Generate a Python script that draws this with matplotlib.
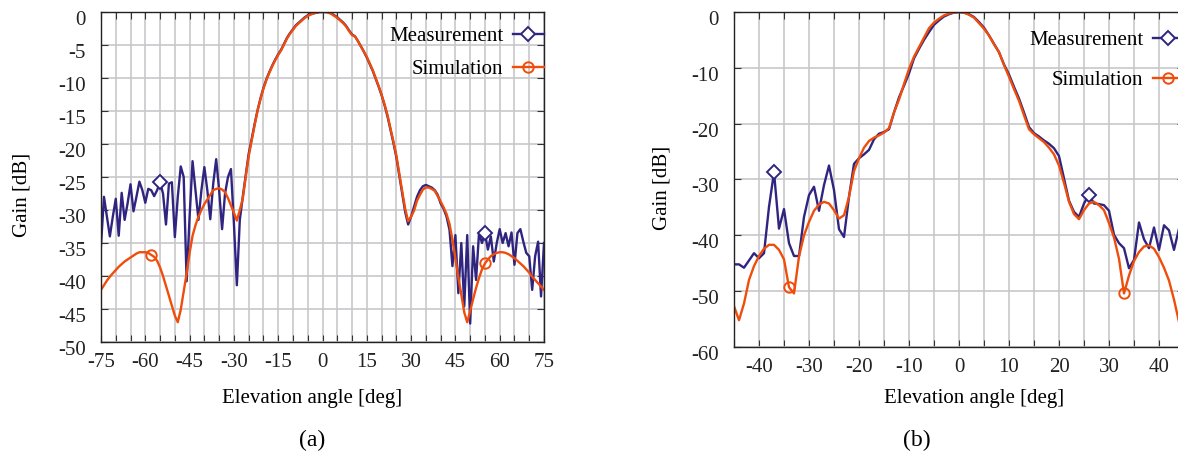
import numpy as np
import matplotlib
matplotlib.use("Agg")
import matplotlib.pyplot as plt
from matplotlib.ticker import MultipleLocator
from matplotlib.transforms import ScaledTranslation

plt.rcParams['font.family'] = ['Liberation Serif', 'DejaVu Serif']
plt.rcParams['font.size'] = 15
plt.rcParams['axes.unicode_minus'] = False

# ---- panel (a): -75..75 deg, 1 deg step ----
angle_a = np.arange(-75, 76)
meas_a = [-35.4, -28.0, -31.0, -34.0, -31.0, -28.3, -33.9, -27.4, -31.5, -29.0,
          -26.1, -30.2, -28.0, -25.7, -27.0, -28.9, -26.8, -27.0, -27.9, -27.0,
          -25.8, -27.5, -32.2, -26.0, -25.8, -34.1, -28.0, -23.4, -25.0, -40.8,
          -31.0, -22.6, -27.0, -31.5, -27.0, -23.5, -27.0, -31.4, -26.0, -22.3,
          -27.0, -32.9, -27.5, -25.0, -23.8, -32.0, -41.4, -31.5, -28.0, -24.8,
          -21.5, -19.3, -17.0, -14.9, -13.1, -11.5, -10.2, -9.1, -8.1, -7.2,
          -6.4, -5.7, -4.8, -3.9, -3.2, -2.6, -2.0, -1.6, -1.2, -0.8,
          -0.5, -0.3, -0.2, -0.1, 0.0, 0.0, 0.0, 0.0, -0.2, -0.5,
          -0.8, -1.2, -1.6, -2.1, -2.8, -3.4, -3.7, -4.4, -5.2, -6.0,
          -6.9, -7.9, -8.9, -10.1, -11.3, -12.6, -14.1, -15.8, -17.8, -19.8,
          -22.0, -24.8, -27.6, -30.3, -32.2, -31.0, -29.5, -28.0, -27.0, -26.4,
          -26.2, -26.4, -26.6, -27.0, -27.7, -29.0, -29.8, -31.0, -33.0, -38.5,
          -33.8, -42.6, -35.0, -44.6, -33.8, -47.2, -35.5, -40.6, -33.5, -35.0,
          -33.5, -36.0, -34.0, -37.8, -35.0, -32.9, -35.0, -33.5, -35.5, -33.4,
          -38.3, -33.5, -32.9, -34.8, -36.5, -37.0, -42.1, -37.0, -34.8, -43.1,
          -35.0]
sim_a = [-42.1, -41.4, -40.7, -40.1, -39.6, -39.1, -38.6, -38.2, -37.8, -37.5,
         -37.2, -36.9, -36.6, -36.4, -36.4, -36.4, -36.5, -36.8, -37.1, -37.7,
         -38.7, -40.0, -41.5, -43.0, -44.5, -46.0, -47.0, -45.1, -42.3, -39.6,
         -36.5, -33.9, -32.3, -31.0, -30.0, -29.1, -28.4, -27.7, -27.0, -26.8,
         -26.7, -26.9, -27.3, -28.2, -29.3, -30.4, -31.6, -30.0, -28.3, -25.0,
         -21.9, -19.5, -17.2, -15.0, -13.2, -11.6, -10.3, -9.2, -8.2, -7.3,
         -6.5, -5.8, -4.9, -4.0, -3.3, -2.7, -2.1, -1.7, -1.3, -0.9,
         -0.6, -0.4, -0.2, -0.1, 0.0, 0.0, 0.0, -0.1, -0.3, -0.6,
         -0.9, -1.3, -1.7, -2.2, -2.9, -3.5, -3.7, -4.4, -5.2, -6.0,
         -6.8, -7.8, -8.8, -10.0, -11.2, -12.5, -14.0, -15.6, -17.6, -19.6,
         -21.7, -24.5, -27.2, -29.8, -31.7, -31.0, -30.1, -28.6, -27.7, -26.9,
         -26.6, -26.6, -26.8, -27.1, -27.9, -28.7, -29.6, -30.6, -32.1, -34.5,
         -37.4, -40.2, -42.8, -45.5, -47.0, -45.3, -43.5, -41.8, -40.3, -39.0,
         -38.1, -37.5, -37.0, -36.7, -36.5, -36.4, -36.4, -36.5, -36.7, -37.0,
         -37.3, -37.7, -38.1, -38.5, -39.0, -39.5, -40.1, -40.6, -41.1, -41.6,
         -42.1]
meas_a_marks = [20, 130]
sim_a_marks = [17, 130]

# ---- panel (b): -45..44 deg, 1 deg step ----
angle_b = np.arange(-45, 45)
meas_b = [-45.2, -45.2, -45.8, -44.5, -43.2, -44.1, -43.2, -34.9, -28.7, -38.8,
          -35.3, -41.4, -43.7, -43.7, -36.7, -32.8, -31.3, -35.6, -31.0, -27.5,
          -31.9, -38.9, -40.3, -33.1, -27.2, -26.2, -25.5, -24.7, -22.8, -21.8,
          -21.5, -21.0, -18.0, -15.3, -13.2, -11.0, -8.3, -6.6, -5.0, -3.6,
          -2.3, -1.5, -0.8, -0.4, -0.1, 0.0, -0.1, -0.4, -0.9, -1.8,
          -2.8, -4.2, -5.7, -7.2, -9.4, -11.2, -13.4, -15.5, -18.0, -20.6,
          -21.7, -22.3, -23.0, -23.6, -24.4, -25.8, -29.8, -33.8, -35.8, -36.7,
          -34.3, -32.7, -34.3, -34.4, -34.6, -35.6, -39.9, -41.4, -42.3, -45.9,
          -44.4, -37.7, -40.7, -42.3, -38.6, -42.6, -38.2, -39.1, -42.6, -38.8]
sim_b = [-52.7, -55.2, -52.2, -48.0, -45.5, -43.7, -42.4, -41.7, -41.7, -42.6,
         -44.3, -49.3, -50.4, -43.8, -40.0, -37.6, -35.6, -34.5, -34.0, -34.3,
         -35.5, -37.0, -36.4, -33.1, -28.5, -26.2, -24.3, -23.1, -22.5, -22.1,
         -21.6, -20.8, -18.0, -15.7, -12.9, -10.2, -8.0, -6.3, -4.6, -2.9,
         -1.9, -1.2, -0.6, -0.3, -0.1, 0.0, -0.1, -0.5, -1.0, -2.0,
         -3.0, -4.2, -5.8, -7.2, -9.5, -11.6, -13.8, -15.9, -18.5, -21.0,
         -21.9, -22.6, -23.3, -24.3, -25.5, -27.5, -30.6, -34.0, -36.2, -37.1,
         -35.5, -34.3, -34.0, -34.6, -35.5, -37.8, -40.4, -44.2, -50.4, -47.2,
         -44.6, -43.0, -42.0, -41.8, -42.4, -43.9, -45.8, -48.1, -51.5, -55.5]
meas_b_marks = [8, 71]
sim_b_marks = [11, 78]

meas_color = '#2f2580'
sim_color = '#f04c0a'
grid_color = '#c8c8cc'


def style_axes(ax, fig, xmajor, ymajor):
    ax.xaxis.set_major_locator(MultipleLocator(xmajor))
    ax.xaxis.set_minor_locator(MultipleLocator(5))
    ax.yaxis.set_major_locator(MultipleLocator(ymajor))
    ax.grid(True, which='both', axis='x', color=grid_color, linewidth=1.2)
    ax.grid(True, which='major', axis='y', color=grid_color, linewidth=1.2)
    ax.set_axisbelow(True)
    ax.tick_params(which='both', direction='in', top=True, right=True,
                   length=5, width=0.8, colors='#333333', labelcolor='#222222')
    ax.tick_params(axis='x', which='major', pad=8)
    ax.tick_params(axis='y', which='major', pad=11)
    for s in ax.spines.values():
        s.set_color('#222222')
        s.set_linewidth(1.0)
    off = ScaledTranslation(0, -0.06, fig.dpi_scale_trans)
    for lab in ax.get_yticklabels():
        lab.set_transform(lab.get_transform() + off)


def fig_xy(px, py):
    return px / 1178, 1 - py / 457


fig = plt.figure(figsize=(11.78, 4.57), dpi=100)

# panel (a)
ax1 = fig.add_axes([101 / 1178, 115 / 457, 443 / 1178, 330 / 457])
ax1.plot(angle_a, meas_a, color=meas_color, lw=1.7, marker='D', ms=7,
         mfc='white', mew=1.4, markevery=meas_a_marks, label='Measurement')
ax1.plot(angle_a, sim_a, color=sim_color, lw=1.7, marker='o', ms=7.5,
         mfc='none', mew=1.4, markevery=sim_a_marks, label='Simulation')
ax1.set_xlim(-75, 75)
ax1.set_ylim(-50, 0)
style_axes(ax1, fig, 15, 5)
ax1.legend(loc='upper right', bbox_to_anchor=(1.0, 0.955), frameon=False,
           markerfirst=False, handlelength=1.5, handletextpad=0.45,
           labelspacing=0.62, borderpad=0, borderaxespad=0)

# panel (b)
ax2 = fig.add_axes([734 / 1178, 110 / 457, 450 / 1178, 335 / 457])
ax2.plot(angle_b, meas_b, color=meas_color, lw=1.7, marker='D', ms=7,
         mfc='white', mew=1.4, markevery=meas_b_marks, label='Measurement')
ax2.plot(angle_b, sim_b, color=sim_color, lw=1.7, marker='o', ms=7.5,
         mfc='none', mew=1.4, markevery=sim_b_marks, label='Simulation')
ax2.set_xlim(-45, 45)
ax2.set_ylim(-60, 0)
style_axes(ax2, fig, 10, 10)
ax2.legend(loc='upper right', bbox_to_anchor=(1.0, 0.945), frameon=False,
           markerfirst=False, handlelength=1.5, handletextpad=0.45,
           labelspacing=1.0, borderpad=0, borderaxespad=0)

# axis titles and panel captions
fig.text(*fig_xy(22, 195), 'Gain [dB]', rotation=90, ha='center', va='center')
fig.text(*fig_xy(662, 188), 'Gain [dB]', rotation=90, ha='center', va='center')
fig.text(*fig_xy(312, 398), 'Elevation angle [deg]', ha='center', va='center')
fig.text(*fig_xy(974, 398), 'Elevation angle [deg]', ha='center', va='center')
fig.text(*fig_xy(312, 440), '(a)', ha='center', va='center', fontsize=17)
fig.text(*fig_xy(917, 440), '(b)', ha='center', va='center', fontsize=17)

fig.savefig('out.png', dpi=100)
